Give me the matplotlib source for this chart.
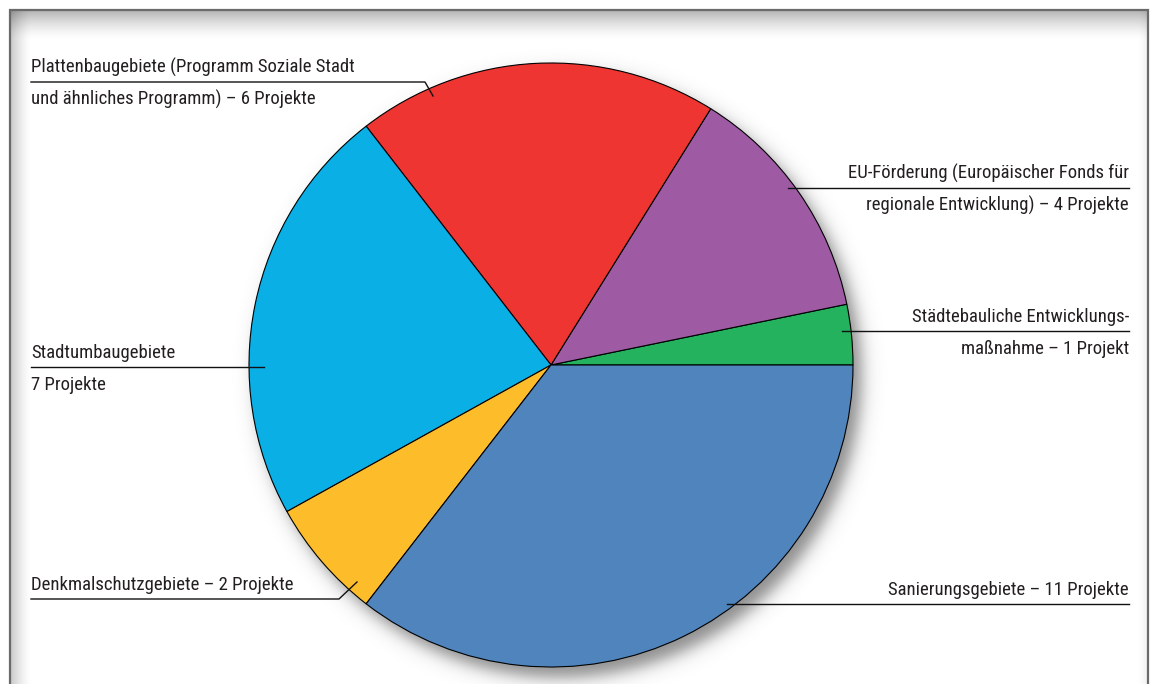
import numpy as np
import matplotlib
matplotlib.use("Agg")
import matplotlib.pyplot as plt
from matplotlib.lines import Line2D

# ---------------- data ----------------
categories = [
    "Städtebauliche Entwicklungsmaßnahme",
    "EU-Förderung (Europäischer Fonds für regionale Entwicklung)",
    "Plattenbaugebiete (Programm Soziale Stadt und ähnliches Programm)",
    "Stadtumbaugebiete",
    "Denkmalschutzgebiete",
    "Sanierungsgebiete",
]
projects = [1, 4, 6, 7, 2, 11]
colors = ["#24B25F", "#9E5BA3", "#EE3531", "#0AAFE6", "#FDBD2B", "#4F84BD"]
label_lines = [
    ["Städtebauliche Entwicklungs-", "maßnahme – 1 Projekt"],
    ["EU-Förderung (Europäischer Fonds für", "regionale Entwicklung) – 4 Projekte"],
    ["Plattenbaugebiete (Programm Soziale Stadt", "und ähnliches Programm) – 6 Projekte"],
    ["Stadtumbaugebiete", "7 Projekte"],
    ["Denkmalschutzgebiete – 2 Projekte"],
    ["Sanierungsgebiete – 11 Projekte"],
]

# ---------------- layout (pixels) ----------------
W, H = 1152, 684
CX, CY, R = 551, 365, 302
FONT = ["Roboto Condensed", "DejaVu Sans"]
FS = 13.5
TXT = "#231F20"
# (text x, align, leader line y, leader polyline points)
layout = [
    (1129, "right", 331, [(1129, 331), (842, 331)]),
    (1129, "right", 188, [(1129, 188), (788, 188)]),
    (31, "left", 82, [(31, 82), (425, 82), (433, 96)]),
    (31, "left", 367, [(31, 367), (264, 367)]),
    (31, "left", 599, [(31, 599), (339, 599), (357, 582)]),
    (1129, "right", 604, [(1129, 604), (727, 604)]),
]

fig = plt.figure(figsize=(W / 100, H / 100), dpi=100)
ax = fig.add_axes([0, 0, 1, 1])

# background with inner frame shadow
yy, xx = np.mgrid[0:H, 0:W].astype(float)
shade = np.ones((H, W))
top = np.clip((yy - 11) / 28.0, 0, 1)
left = np.clip((xx - 11) / 20.0, 0, 1)
right = np.clip((1147 - xx) / 10.0, 0, 1)
shade *= 1 - 0.28 * (1 - top) ** 1.5
shade *= 1 - 0.20 * (1 - left) ** 1.5
shade *= 1 - 0.06 * (1 - right) ** 1.5
outside = (xx < 10) | (xx > 1148) | (yy < 10)
shade[outside] = 1.0
bg = np.dstack([shade, shade, shade])
ax.imshow(bg, extent=(0, W, H, 0), zorder=0, interpolation="bilinear")

# pie drop shadow
d = np.hypot(xx - (CX + 8), yy - (CY + 10)) - R
sh_alpha = 0.6 / (1 + np.exp(d / 5.0))
sh = np.zeros((H, W, 4))
sh[..., 3] = sh_alpha
sh[..., :3] = 0.25
ax.imshow(sh, extent=(0, W, H, 0), zorder=1, interpolation="bilinear")

# pie (y-axis inverted -> counterclock=False gives visual counterclockwise)
wedges, _ = ax.pie(projects, colors=colors, startangle=0, counterclock=False,
                   center=(CX, CY), radius=R, frame=True,
                   wedgeprops=dict(edgecolor="black", linewidth=0.8))
for w in wedges:
    w.set_zorder(2)

ax.set_xlim(0, W)
ax.set_ylim(H, 0)
ax.set_aspect("auto")
ax.axis("off")

# frame lines
ax.add_line(Line2D([10, 10, 1148, 1148], [H + 5, 10, 10, H + 5], color="#6A6A6A",
                   lw=1.6, zorder=3, solid_joinstyle="miter"))

# labels
for lines, (tx, ha, ly, pts) in zip(label_lines, layout):
    px, py = zip(*pts)
    ax.add_line(Line2D(px, py, color="#111111", lw=1.0, zorder=4))
    ax.text(tx, ly - 9, lines[0], ha=ha, va="baseline", fontsize=FS,
            family=FONT, color=TXT, zorder=5)
    if len(lines) > 1:
        ax.text(tx, ly + 23, lines[1], ha=ha, va="baseline", fontsize=FS,
                family=FONT, color=TXT, zorder=5)

fig.savefig("out.png", dpi=100)
